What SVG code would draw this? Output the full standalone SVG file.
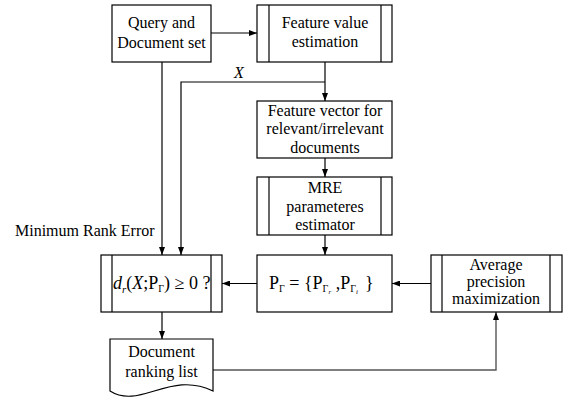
<svg xmlns="http://www.w3.org/2000/svg" width="563" height="398" viewBox="0 0 563 398" font-family="'Liberation Serif', 'Times New Roman', serif">
  <defs>
    <marker id="arrow" viewBox="0 0 8 6" refX="8" refY="3" markerWidth="8" markerHeight="6" markerUnits="userSpaceOnUse" orient="auto">
      <path d="M0,0 L8,3 L0,6 z" fill="#000"/>
    </marker>
  </defs>
  <style>
    .box{fill:#fff;stroke:#000;stroke-width:1.2}
    .bar{stroke:#000;stroke-width:1.2}
    text{font-family:'Liberation Serif','Times New Roman',serif}
    .t{font-size:16px;fill:#000;text-anchor:middle}
    .s{font-size:16px;fill:#000;text-anchor:start}
    .m{font-size:18px;fill:#000}
    .c{fill:none;stroke:#000;stroke-width:1.2;marker-end:url(#arrow)}
    .c2{fill:none;stroke:#555;stroke-width:1.4;marker-end:url(#arrow)}
  </style>

  <!-- connectors -->
  <g id="connectors">
    <path class="c" d="M211,33 H257"/>
    <path class="c" d="M162,62 V255"/>
    <path class="c" d="M325,62 V101"/>
    <path class="c" d="M325,82 H181 V255"/>
    <path class="c" d="M325,158 V177"/>
    <path class="c" d="M325,235 V255"/>
    <path class="c" d="M257,283.5 H222"/>
    <path class="c" d="M431,283.5 H392"/>
    <path class="c" d="M162,312 V339"/>
    <path class="c2" d="M213,370 H496 V312"/>
  </g>

  <g id="label-x">
    <text class="t" x="239" y="78" font-style="italic">X</text>
  </g>

  <g id="label-mre">
    <text class="s" x="15" y="236">Minimum Rank Error</text>
  </g>

  <g id="query">
    <rect class="box" x="112" y="5" width="99" height="57"/>
    <text class="t" x="161.5" y="28">Query and</text>
    <text class="t" x="161.5" y="48">Document set</text>
  </g>

  <g id="feature-value">
    <rect class="box" x="257" y="5" width="135" height="57"/>
    <line class="bar" x1="269" y1="5" x2="269" y2="62"/>
    <line class="bar" x1="381" y1="5" x2="381" y2="62"/>
    <text class="t" x="325" y="28">Feature value</text>
    <text class="t" x="325" y="47">estimation</text>
  </g>

  <g id="feature-vector">
    <rect class="box" x="257" y="101" width="135" height="57"/>
    <text class="t" x="325" y="116">Feature vector for</text>
    <text class="t" x="325" y="134">relevant/irrelevant</text>
    <text class="t" x="325" y="153">documents</text>
  </g>

  <g id="mre-estimator">
    <rect class="box" x="257" y="177" width="135" height="58"/>
    <line class="bar" x1="269" y1="177" x2="269" y2="235"/>
    <line class="bar" x1="381" y1="177" x2="381" y2="235"/>
    <text class="t" x="325" y="193">MRE</text>
    <text class="t" x="325" y="212">parameteres</text>
    <text class="t" x="325" y="230">estimator</text>
  </g>

  <g id="parameters">
    <rect class="box" x="257" y="255" width="135" height="57"/>
    <text class="m" x="269" y="289">P<tspan font-size="10" dy="3">Γ</tspan><tspan dy="-3"> = {P</tspan><tspan font-size="10" dy="3">Γ</tspan><tspan font-size="7" font-style="italic" dy="2">r</tspan><tspan dy="-5"> ,P</tspan><tspan font-size="10" dy="3">Γ</tspan><tspan font-size="7" font-style="italic" dy="2">i</tspan><tspan x="365" dy="-5">}</tspan></text>
  </g>

  <g id="average-precision">
    <rect class="box" x="431" y="255" width="131" height="57"/>
    <line class="bar" x1="442" y1="255" x2="442" y2="312"/>
    <line class="bar" x1="550" y1="255" x2="550" y2="312"/>
    <text class="t" x="496" y="270">Average</text>
    <text class="t" x="496" y="287">precision</text>
    <text class="t" x="496" y="304">maximization</text>
  </g>

  <g id="decision">
    <rect class="box" x="101" y="255" width="121" height="57"/>
    <line class="bar" x1="112" y1="255" x2="112" y2="312"/>
    <line class="bar" x1="211" y1="255" x2="211" y2="312"/>
    <text class="m" x="113" y="289"><tspan font-style="italic">d</tspan><tspan font-style="italic" font-size="11" dy="4">r</tspan><tspan dy="-4">(</tspan><tspan font-style="italic">X</tspan>;P<tspan font-size="10" dy="3">Γ</tspan><tspan dy="-3">) ≥ 0 ?</tspan></text>
  </g>

  <g id="ranking-list">
    <path class="box" d="M110,339 H213 V391 C170,370 140,410 110,391 Z"/>
    <text class="t" x="161.5" y="357">Document</text>
    <text class="t" x="161.5" y="377">ranking list</text>
  </g>
</svg>
